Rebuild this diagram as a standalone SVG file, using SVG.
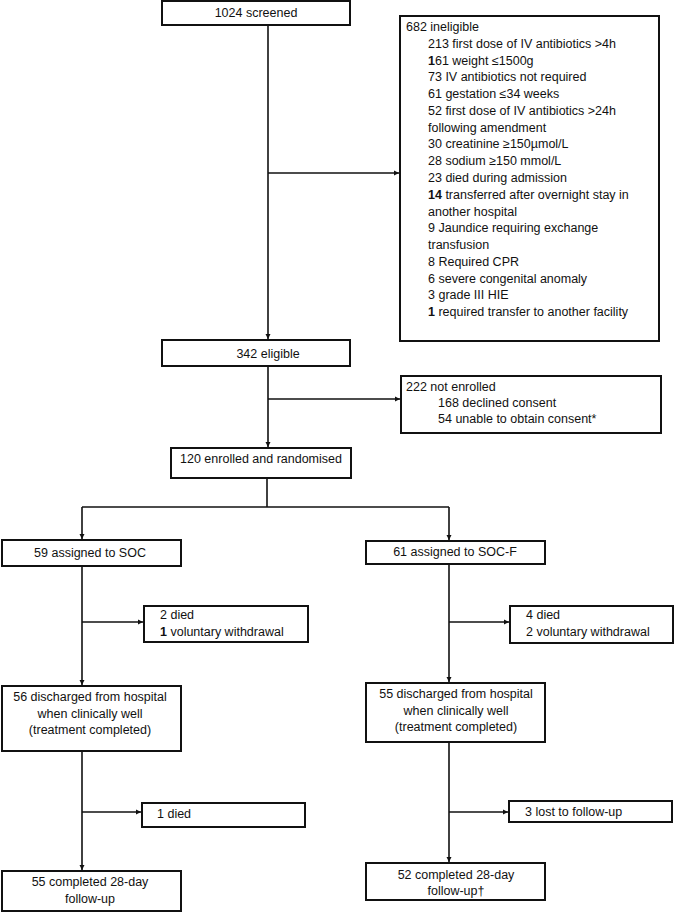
<svg xmlns="http://www.w3.org/2000/svg" width="674" height="912" viewBox="0 0 674 912">
<defs>
<style>
.box{fill:#fff;stroke:#111;stroke-width:2}
.ln{fill:none;stroke:#111;stroke-width:1.6}
text{font-family:"Liberation Sans",Arial,sans-serif;font-size:12.5px;fill:#111}
.c{text-anchor:middle}
.b{font-weight:bold}
</style>
<marker id="ah" markerWidth="6" markerHeight="6" refX="5" refY="3" orient="auto" markerUnits="userSpaceOnUse">
<path d="M0,0.5 L5,3 L0,5.5 Z" fill="#111"/>
</marker>
</defs>
<rect width="674" height="912" fill="#fff"/>
<g id="connectors">
<path class="ln" d="M268,25 V339" marker-end="url(#ah)"/>
<path class="ln" d="M268,173 H399" marker-end="url(#ah)"/>
<path class="ln" d="M268,366 V447" marker-end="url(#ah)"/>
<path class="ln" d="M268,399 H400" marker-end="url(#ah)"/>
<path class="ln" d="M267,478 V507"/>
<path class="ln" d="M82,507 H449"/>
<path class="ln" d="M82,507 V539" marker-end="url(#ah)"/>
<path class="ln" d="M449,507 V540" marker-end="url(#ah)"/>
<path class="ln" d="M82,566 V685" marker-end="url(#ah)"/>
<path class="ln" d="M82,622 H143" marker-end="url(#ah)"/>
<path class="ln" d="M449,564 V682" marker-end="url(#ah)"/>
<path class="ln" d="M449,622 H509" marker-end="url(#ah)"/>
<path class="ln" d="M82,751 V870" marker-end="url(#ah)"/>
<path class="ln" d="M82,812 H141" marker-end="url(#ah)"/>
<path class="ln" d="M449,742 V862" marker-end="url(#ah)"/>
<path class="ln" d="M449,812 H508" marker-end="url(#ah)"/>
</g>
<g id="screened">
<rect class="box" x="162" y="1" width="188" height="24"/>
<text class="c" x="256" y="17">1024 screened</text>
</g>
<g id="ineligible">
<rect class="box" x="400" y="16" width="259" height="325"/>
<text x="406" y="31">682 ineligible</text>
<text x="428" y="47.8">213 first dose of IV antibiotics &gt;4h</text>
<text x="428" y="64.5"><tspan class="b">1</tspan>61 weight ≤1500g</text>
<text x="428" y="81.3">73 IV antibiotics not required</text>
<text x="428" y="98.1">61 gestation ≤34 weeks</text>
<text x="428" y="114.9">52 first dose of IV antibiotics &gt;24h</text>
<text x="428" y="131.6">following amendment</text>
<text x="428" y="148.4">30 creatinine ≥150µmol/L</text>
<text x="428" y="165.2">28 sodium ≥150 mmol/L</text>
<text x="428" y="182">23 died during admission</text>
<text x="428" y="198.7"><tspan class="b">14</tspan> transferred after overnight stay in</text>
<text x="428" y="215.5">another hospital</text>
<text x="428" y="232.3">9 Jaundice requiring exchange</text>
<text x="428" y="249.1">transfusion</text>
<text x="428" y="265.8">8 Required CPR</text>
<text x="428" y="282.6">6 severe congenital anomaly</text>
<text x="428" y="299.4">3 grade III HIE</text>
<text x="428" y="316.2"><tspan class="b">1</tspan> required transfer to another facility</text>
</g>
<g id="eligible">
<rect class="box" x="162" y="340" width="188" height="26"/>
<text class="c" x="268" y="357.5">342 eligible</text>
</g>
<g id="not-enrolled">
<rect class="box" x="401" y="376" width="260" height="57"/>
<text x="406" y="391">222 not enrolled</text>
<text x="438" y="407">168 declined consent</text>
<text x="438" y="423">54 unable to obtain consent*</text>
</g>
<g id="enrolled">
<rect class="box" x="171" y="448" width="180" height="30"/>
<text class="c" x="261" y="463">120 enrolled and randomised</text>
</g>
<g id="soc">
<rect class="box" x="2" y="540" width="179" height="26"/>
<text class="c" x="90" y="557">59 assigned to SOC</text>
</g>
<g id="socf">
<rect class="box" x="366" y="541" width="179" height="23"/>
<text class="c" x="455" y="556">61 assigned to SOC-F</text>
</g>
<g id="soc-died">
<rect class="box" x="144" y="606" width="164" height="36"/>
<text x="160" y="619">2 died</text>
<text x="160" y="636"><tspan class="b">1</tspan> voluntary withdrawal</text>
</g>
<g id="socf-died">
<rect class="box" x="510" y="606" width="163" height="37"/>
<text x="526" y="619">4 died</text>
<text x="526" y="636">2 voluntary withdrawal</text>
</g>
<g id="soc-discharged">
<rect class="box" x="2" y="686" width="179" height="65"/>
<text class="c" x="90" y="701">56 discharged from hospital</text>
<text class="c" x="90" y="718">when clinically well</text>
<text class="c" x="90" y="734">(treatment completed)</text>
</g>
<g id="socf-discharged">
<rect class="box" x="366" y="683" width="179" height="59"/>
<text class="c" x="456" y="698">55 discharged from hospital</text>
<text class="c" x="456" y="715">when clinically well</text>
<text class="c" x="456" y="731">(treatment completed)</text>
</g>
<g id="soc-died2">
<rect class="box" x="142" y="803" width="163" height="24"/>
<text x="157" y="818">1 died</text>
</g>
<g id="socf-lost">
<rect class="box" x="509" y="801" width="163" height="21"/>
<text x="525" y="816">3 lost to follow-up</text>
</g>
<g id="soc-completed">
<rect class="box" x="2" y="871" width="179" height="40"/>
<text class="c" x="90" y="886">55 completed 28-day</text>
<text class="c" x="90" y="903">follow-up</text>
</g>
<g id="socf-completed">
<rect class="box" x="366" y="863" width="179" height="37"/>
<text class="c" x="456" y="879">52 completed 28-day</text>
<text class="c" x="456" y="895">follow-up†</text>
</g>
</svg>
